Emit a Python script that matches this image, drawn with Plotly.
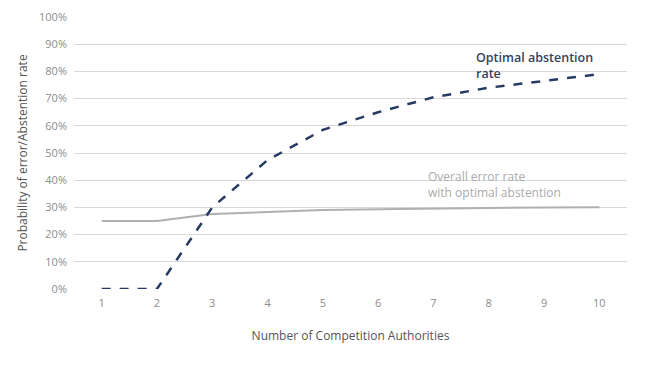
import plotly.graph_objects as go

authorities = [1, 2, 3, 4, 5, 6, 7, 8, 9, 10]
abstention = [0.0, 0.0, 0.30, 0.474, 0.585, 0.65, 0.705, 0.74, 0.765, 0.79]
error_rate = [0.25, 0.25, 0.276, 0.283, 0.29, 0.293, 0.296, 0.298, 0.30, 0.301]
y_ticks = [i / 10 for i in range(11)]

fig = go.Figure()
fig.add_trace(go.Scatter(x=authorities, y=error_rate, mode="lines",
                         line=dict(color="#b0b0b0", width=2), showlegend=False))
fig.add_trace(go.Scatter(x=authorities, y=abstention, mode="lines",
                         line=dict(color="#263b63", width=2.5, dash="dash"), showlegend=False))

fig.add_annotation(x=7.74, y=0.822, xref="x", yref="y", xanchor="left", yanchor="middle",
                   text="Optimal abstention<br>rate", showarrow=False, align="left",
                   font=dict(family="Open Sans", size=12.5, color="#34425f", weight=600))
fig.add_annotation(x=6.86, y=0.384, xref="x", yref="y", xanchor="left", yanchor="middle",
                   text="Overall error rate<br>with optimal abstention", showarrow=False,
                   align="left", font=dict(family="Open Sans", size=12, color="#aaaaaa"))

fig.update_layout(
    width=635, height=354,
    margin=dict(l=66, r=16, t=9, b=73),
    plot_bgcolor="white", paper_bgcolor="white",
    font=dict(family="Open Sans", size=11, color="#888888"),
    xaxis=dict(range=[0.5, 10.5], tickvals=authorities, showgrid=False, zeroline=False,
               showline=False, ticks="", automargin=False, ticklabelstandoff=6,
               tickfont=dict(size=11, color="#8c8c8c"),
               title=dict(text="Number of Competition Authorities", standoff=22,
                          font=dict(size=12, color="#555555"))),
    yaxis=dict(range=[0, 1], tickvals=y_ticks, tickformat=".0%", showgrid=True,
               gridcolor="#d9d9d9", gridwidth=1, zeroline=False, showline=False,
               ticks="", automargin=False, ticklabelstandoff=6,
               tickfont=dict(size=11, color="#8c8c8c"),
               title=dict(text="Probability of error/Abstention rate", standoff=8,
                          font=dict(size=12, color="#555555"))),
)
fig.write_html("out.html")
